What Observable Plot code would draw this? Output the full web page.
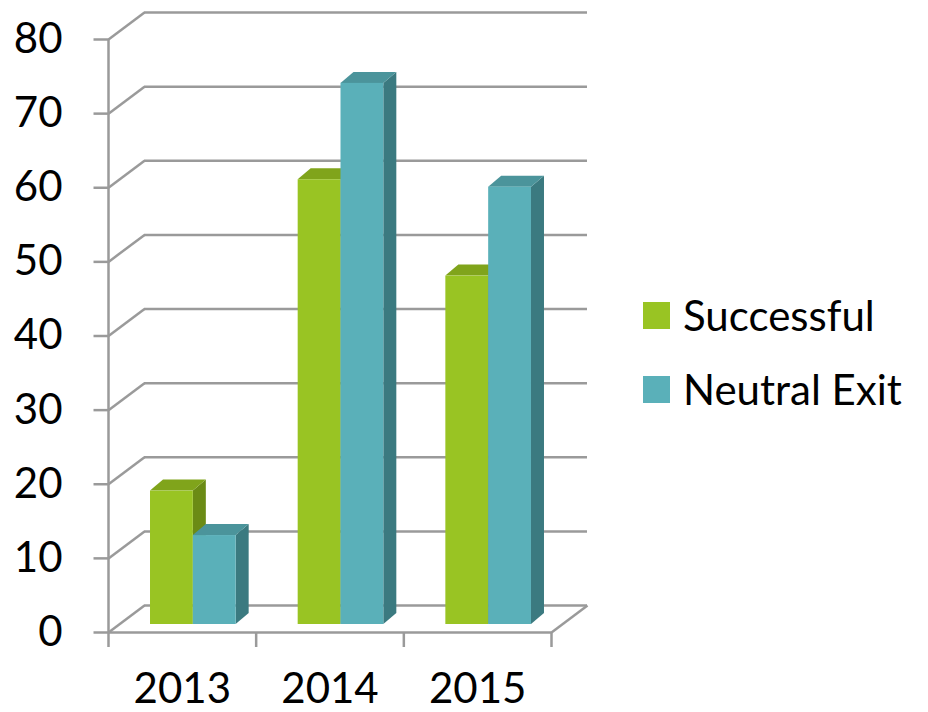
<!DOCTYPE html>
<html>
<head>
<meta charset="utf-8">
<script src="https://cdn.jsdelivr.net/npm/d3@7"></script>
<script src="https://cdn.jsdelivr.net/npm/@observablehq/plot@0.6"></script>
<style>
  body { margin: 0; background: #fff; }
  #wrap { position: relative; width: 928px; height: 712px; }
  #legend { position: absolute; left: 643px; top: 278px; font-family: Lato, "Open Sans", sans-serif; font-size: 42px; color: #000; }
  .row { display: flex; align-items: center; height: 74px; line-height: 1; }
  .sw { width: 27px; height: 27px; margin-right: 13px; flex: none; }
</style>
</head>
<body>
<div id="wrap"><div id="legend"></div></div>
<script>
// ---- data ----
const years = ["2013", "2014", "2015"];
const seriesNames = ["Successful", "Neutral Exit"];
const successful = [18, 60, 47];
const neutralExit = [12, 73, 59];
const yTicks = [0, 10, 20, 30, 40, 50, 60, 70, 80];

// ---- styles ----
const frontColors = ["#99c423", "#5ab0b9"];
const sideColors = ["#6b8b15", "#3b7a80"];
const topColors = ["#80a41b", "#4b949b"];
const gridColor = "#9a9a9a";
const font = "Lato, 'Open Sans', sans-serif";

const W = 928, H = 712, mL = 108, mR = 377, mT = 39, mB = 80;
const kx = (W - mL - mR) / years.length;   // px per category
const ky = (H - mT - mB) / 80;             // px per value unit
const wall = {dx: 36, dy: 27};             // px depth of back wall
const barDepth = {dx: 13, dy: 11};         // px depth of bar
const barPlane = {dx: 11, dy: 8};          // px offset of bar plane
const barW = 0.29;                          // bar width in category units

const values = [successful, neutralExit];
const bars = [];
years.forEach((yr, i) => values.forEach((vals, s) => {
  const x1 = i + 0.5 - barW + s * barW;
  bars.push({year: yr, series: s, key: yr + "-" + s, x1, x2: x1 + barW, v: vals[i]});
}));
const bdx = barDepth.dx / kx, bdy = barDepth.dy / ky;
const sidePts = bars.flatMap(b => [
  {key: b.key, series: b.series, x: b.x2, y1: 0, y2: b.v},
  {key: b.key, series: b.series, x: b.x2 + bdx, y1: bdy, y2: b.v + bdy}
]);
const topPts = bars.flatMap(b => [
  {key: b.key, series: b.series, y: b.v, x1: b.x1, x2: b.x2},
  {key: b.key, series: b.series, y: b.v + bdy, x1: b.x1 + bdx, x2: b.x2 + bdx}
]);

const gridStyle = {stroke: gridColor, strokeWidth: 2.5};
const marks = [
  // back wall gridlines
  Plot.ruleY(yTicks, {x1: 0, x2: years.length, dx: wall.dx, dy: -wall.dy, ...gridStyle}),
  // diagonals from front axis to back wall
  Plot.link(yTicks, {x1: 0, y1: d => d, x2: wall.dx / kx, y2: d => d + wall.dy / ky, ...gridStyle}),
  // floor front edge & right diagonal
  Plot.ruleY([0], {x1: 0, x2: years.length, ...gridStyle}),
  Plot.link([0], {x1: years.length, y1: 0, x2: years.length + wall.dx / kx, y2: wall.dy / ky, ...gridStyle}),
  // y axis line & ticks
  Plot.ruleX([0], {y1: 0, y2: 80, ...gridStyle}),
  Plot.link(yTicks, {x1: -15 / kx, y1: d => d, x2: 0, y2: d => d, ...gridStyle}),
  // x axis ticks at category boundaries
  Plot.ruleX(d3.range(years.length + 1), {y1: 0, y2: -15 / ky, ...gridStyle})
];
// bar side faces
[0, 1].forEach(s => marks.push(Plot.areaY(sidePts.filter(d => d.series === s),
  {x: "x", y1: "y1", y2: "y2", z: "key", fill: sideColors[s], dx: barPlane.dx, dy: -barPlane.dy})));
// bar top faces
[0, 1].forEach(s => marks.push(Plot.areaX(topPts.filter(d => d.series === s),
  {y: "y", x1: "x1", x2: "x2", z: "key", fill: topColors[s], dx: barPlane.dx, dy: -barPlane.dy})));
// bar front faces
[0, 1].forEach(s => marks.push(Plot.rect(bars.filter(d => d.series === s),
  {x1: "x1", x2: "x2", y1: 0, y2: "v", fill: frontColors[s], dx: barPlane.dx, dy: -barPlane.dy})));
// labels
marks.push(Plot.text(yTicks, {x: 0, y: d => d, text: d => String(d), textAnchor: "end", dx: -46, fontSize: 42, fill: "#000"}));
marks.push(Plot.text(years, {x: (d, i) => i + 0.5, y: 0, text: d => d, dy: 57, fontSize: 42, fill: "#000"}));

const chart = Plot.plot({
  width: W, height: H,
  marginLeft: mL, marginRight: mR, marginTop: mT, marginBottom: mB,
  x: {domain: [0, years.length], axis: null},
  y: {domain: [0, 80], axis: null},
  style: {fontFamily: font, fontSize: "42px", background: "#fff", overflow: "visible"},
  marks
});
document.getElementById("wrap").prepend(chart);

// legend
const legend = document.getElementById("legend");
seriesNames.forEach((name, s) => {
  const row = document.createElement("div");
  row.className = "row";
  const sw = document.createElement("div");
  sw.className = "sw";
  sw.style.background = frontColors[s];
  const label = document.createElement("span");
  label.textContent = name;
  row.append(sw, label);
  legend.append(row);
});
</script>
</body>
</html>
